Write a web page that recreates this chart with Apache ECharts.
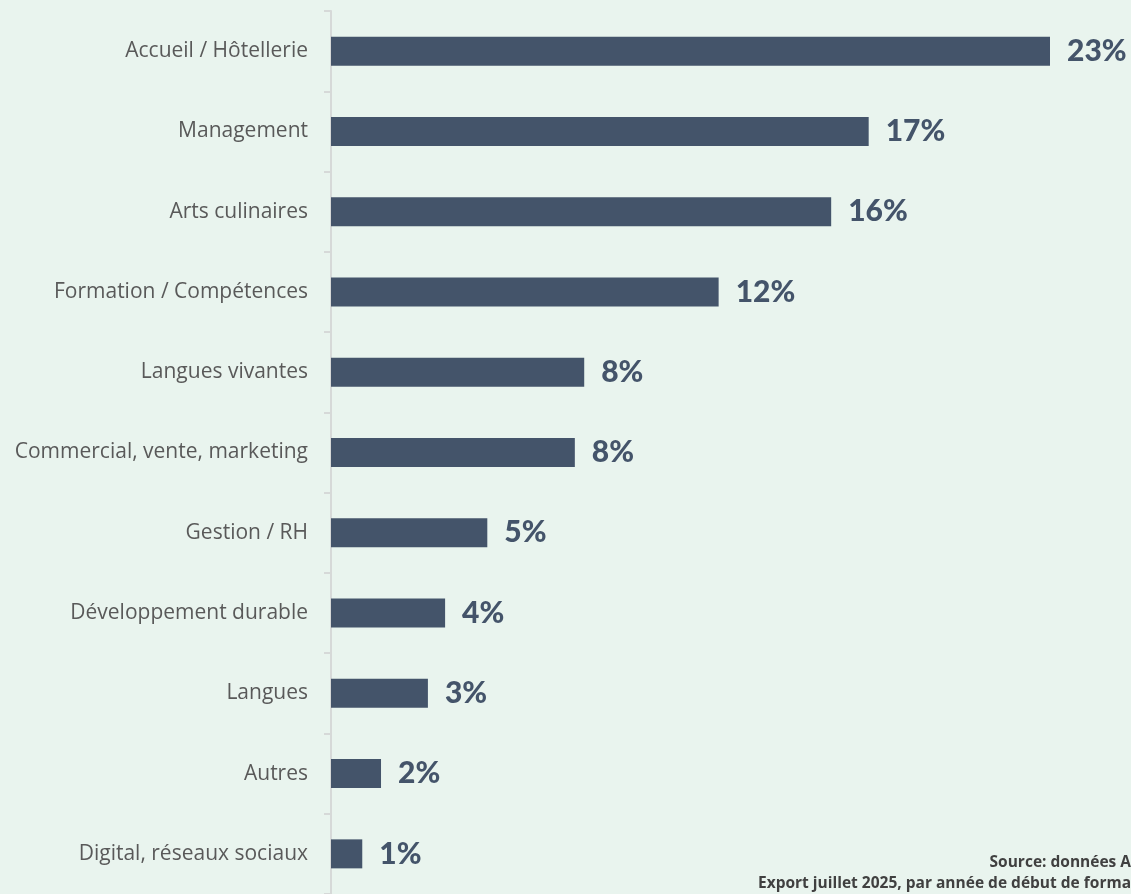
<!DOCTYPE html>
<html>
<head>
<meta charset="utf-8">
<script src="https://cdn.jsdelivr.net/npm/echarts@6/dist/echarts.min.js"></script>
<style>
  html, body { margin: 0; padding: 0; background: #e9f4ee; }
  #chart { width: 1131px; height: 894px; }
</style>
</head>
<body>
<div id="chart"></div>
<script>
const categories = [
  "Accueil / Hôtellerie",
  "Management",
  "Arts culinaires",
  "Formation / Compétences",
  "Langues vivantes",
  "Commercial, vente, marketing",
  "Gestion / RH",
  "Développement durable",
  "Langues",
  "Autres",
  "Digital, réseaux sociaux"
];
const values = [23.0, 17.2, 16.0, 12.4, 8.1, 7.8, 5.0, 3.65, 3.1, 1.6, 1.0];
const sourceLines = [
  "Source: données A",
  "Export juillet 2025, par année de début de forma"
];

const chart = echarts.init(document.getElementById('chart'));
chart.setOption({
  backgroundColor: '#e9f4ee',
  animation: false,
  grid: { left: 331, right: 81, top: 11, height: 885, containLabel: false },
  xAxis: {
    type: 'value', min: 0, max: 23, show: false
  },
  yAxis: {
    type: 'category', data: categories, inverse: true,
    axisLine: { show: true, lineStyle: { color: '#d6d9d8', width: 2 } },
    axisTick: { show: true, length: 7, lineStyle: { color: '#d6d9d8', width: 2 } },
    axisLabel: { margin: 23, color: '#595959', fontFamily: 'Open Sans', fontSize: 21, lineHeight: 26, padding: [5, 0, 0, 0] },
    splitLine: { show: false }
  },
  series: [{
    type: 'bar', data: values, barWidth: 29,
    itemStyle: { color: '#44546a' },
    label: {
      show: true, position: 'right', distance: 17,
      formatter: p => Math.round(p.value) + '%',
      color: '#44546a', fontFamily: 'Lato', fontWeight: 900, fontSize: 30
    }
  }],
  graphic: [
    { type: 'text', right: 0, top: 855, style: { text: sourceLines[0], fill: '#404040', font: 'bold 15.5px "Open Sans"', textAlign: 'right' } },
    { type: 'text', right: 0, top: 876, style: { text: sourceLines[1], fill: '#404040', font: 'bold 15.5px "Open Sans"', textAlign: 'right' } }
  ]
});
</script>
</body>
</html>
